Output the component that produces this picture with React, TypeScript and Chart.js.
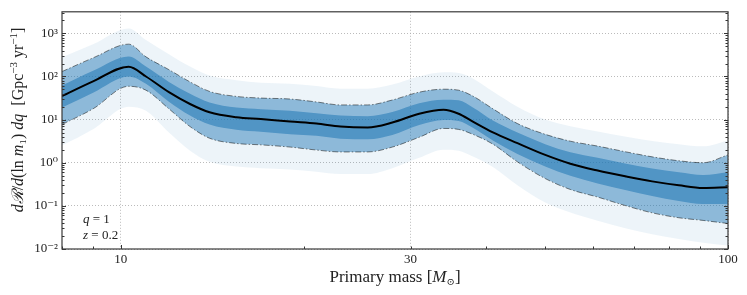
import React, { useEffect, useRef } from "react";
import { Chart, registerables } from "chart.js";
Chart.register(...registerables);

const masses = [8, 9, 10.3, 11, 12, 13, 14, 15.5, 17, 19, 21, 23, 25.5, 28, 31, 34, 36, 38, 41, 45, 50, 55, 61, 68, 75, 83, 91, 100];
const median = [35.1, 76.9, 169, 100, 43.3, 23, 14.8, 11.4, 10.3, 9.0, 8.1, 6.93, 6.58, 8.55, 13.7, 16.9, 13.7, 9.0, 5.07, 2.85, 1.52, 0.95, 0.66, 0.48, 0.37, 0.30, 0.26, 0.27];
const upper90 = [130, 270, 562, 285, 144, 75, 45, 34.5, 31.6, 30.0, 25.7, 21.9, 21.9, 28.5, 43.3, 50.7, 48.1, 35.1, 17.8, 8.1, 4.56, 3.16, 2.43, 1.78, 1.37, 1.11, 1.0, 1.52];
const lower90 = [7.7, 17.8, 59.3, 48.1, 17.8, 6.9, 3.7, 2.8, 2.6, 2.31, 1.97, 1.78, 1.78, 2.31, 3.9, 6.24, 5.93, 4.56, 2.7, 1.05, 0.43, 0.24, 0.16, 0.10, 0.069, 0.053, 0.046, 0.039];
const upper50 = [62, 135, 290, 170, 75, 40, 25, 19, 17.5, 16, 14, 12.5, 12, 15, 24, 29, 28, 19, 9.5, 5, 2.7, 1.75, 1.3, 0.95, 0.74, 0.6, 0.52, 0.6];
const lower50 = [19, 42, 100, 68, 26, 12.5, 7.7, 5.8, 5.2, 4.6, 4.2, 3.6, 3.5, 4.4, 7.5, 9.8, 9.3, 6.5, 3.3, 1.6, 0.82, 0.5, 0.33, 0.23, 0.17, 0.13, 0.11, 0.11];
const outerUpper = [280, 560, 1300, 700, 330, 170, 105, 82, 72, 68, 60, 52, 52, 65, 100, 125, 120, 90, 45, 20, 10, 7, 5.3, 4, 3.2, 2.7, 2.4, 3.3];
const outerLower = [2.5, 6, 20, 16, 5, 1.9, 1.05, 0.82, 0.75, 0.7, 0.62, 0.55, 0.55, 0.75, 1.3, 2.0, 1.9, 1.4, 0.8, 0.3, 0.12, 0.07, 0.045, 0.03, 0.022, 0.017, 0.014, 0.012];

const xTickValues = [10, 30, 100];
const yTickValues = [1e-2, 1e-1, 1, 10, 100, 1000];
const yTickLabels = ["10⁻²", "10⁻¹", "10⁰", "10¹", "10²", "10³"];

type Seg = { t: string; it?: boolean; s?: number; dy?: number };
const annotations: Seg[][] = [
  [{ t: "q", it: true }, { t: " = 1" }],
  [{ t: "z", it: true }, { t: " = 0.2" }],
];

const SERIF = '"Liberation Serif", "DejaVu Serif", serif';

function pts(arr: number[]) {
  return arr.map((y, i) => ({ x: masses[i], y }));
}

function drawSegments(ctx: CanvasRenderingContext2D, segs: Seg[], size: number, x: number, y: number, align: "left" | "center") {
  const fontOf = (g: Seg) => `${g.it ? "italic " : ""}${Math.round((g.s ?? 1) * size)}px ${SERIF}`;
  const widths = segs.map((g) => {
    ctx.font = fontOf(g);
    return ctx.measureText(g.t).width;
  });
  const total = widths.reduce((a, b) => a + b, 0);
  let cx = align === "center" ? x - total / 2 : x;
  ctx.textBaseline = "alphabetic";
  ctx.textAlign = "left";
  const base = y + size * 0.33;
  segs.forEach((g, i) => {
    ctx.font = fontOf(g);
    ctx.fillText(g.t, cx, base + (g.dy ?? 0));
    cx += widths[i];
  });
}

const framePlugin = {
  id: "frame",
  afterDraw(chart: any) {
    const ctx = chart.ctx as CanvasRenderingContext2D;
    const { left, right, top, bottom } = chart.chartArea;
    const xs = chart.scales.x;
    const ys = chart.scales.y;
    ctx.save();
    ctx.strokeStyle = "#333";
    ctx.lineWidth = 1;
    ctx.beginPath();
    for (let d = 0; d <= 1; d++) {
      for (let k = 1; k <= 10; k++) {
        const val = k * Math.pow(10, d);
        if (val < 8 || val > 100) continue;
        const px = Math.round(xs.getPixelForValue(val)) + 0.5;
        const len = val === 10 || val === 100 ? 4 : 2.5;
        ctx.moveTo(px, bottom);
        ctx.lineTo(px, bottom - len);
      }
    }
    for (let e = -2; e <= 3; e++) {
      for (let k = 1; k <= 9; k++) {
        const val = k * Math.pow(10, e);
        if (val > 3162) continue;
        const py = Math.round(ys.getPixelForValue(val)) + 0.5;
        const len = k === 1 ? 4 : 2.5;
        ctx.moveTo(left, py);
        ctx.lineTo(left + len, py);
        ctx.moveTo(right, py);
        ctx.lineTo(right - len, py);
      }
    }
    ctx.stroke();
    ctx.strokeStyle = "#3a3a3a";
    ctx.lineWidth = 1.2;
    ctx.strokeRect(left, top, right - left, bottom - top);

    ctx.fillStyle = "#222";
    annotations.forEach((segs, i) => {
      drawSegments(ctx, segs, 13, left + 21, 219 + i * 16, "left");
    });
    drawSegments(ctx, [{ t: "Primary mass [" }, { t: "M", it: true }, { t: "⊙", s: 0.6, dy: 3 }, { t: "]" }], 17, (left + right) / 2, 276, "center");
    ctx.save();
    ctx.translate(18, 120);
    ctx.rotate(-Math.PI / 2);
    drawSegments(ctx, [
      { t: "dℛ", it: true }, { t: "/" }, { t: "d", it: true }, { t: "(ln " }, { t: "m", it: true }, { t: "₁" }, { t: ")" },
      { t: " dq", it: true }, { t: "  [Gpc" }, { t: "−3", s: 0.7, dy: -6 }, { t: " yr" }, { t: "−1", s: 0.7, dy: -6 }, { t: "]" },
    ], 16, 0, 0, "center");
    ctx.restore();
    ctx.restore();
  },
};

export default function App() {
  const ref = useRef<HTMLCanvasElement>(null);
  useEffect(() => {
    document.body.style.margin = "0";
    const blue = (a: number) => `rgba(31,119,180,${a})`;
    const common = { pointRadius: 0, cubicInterpolationMode: "monotone" as const };
    const band = (arr: number[], order: number, fill: any, color: string) => ({
      ...common,
      data: pts(arr),
      borderWidth: 0,
      borderColor: "rgba(0,0,0,0)",
      fill,
      backgroundColor: color,
      order,
    });
    const dash = (arr: number[]) => ({
      ...common,
      data: pts(arr),
      borderColor: "rgba(0,0,0,0.55)",
      borderWidth: 0.9,
      borderDash: [6, 2, 1.5, 2],
      fill: false,
      order: 1,
    });
    const chart = new Chart(ref.current!, {
      type: "line",
      data: {
        datasets: [
          { ...common, data: pts(median), borderColor: "#000", borderWidth: 2, fill: false, order: 0 } as any,
          dash(upper90),
          dash(lower90),
          band(outerUpper, 5, 4, blue(0.08)),
          band(outerLower, 5, false, "transparent"),
          band(upper90, 4, 6, blue(0.47)),
          band(lower90, 4, false, "transparent"),
          band(upper50, 3, 8, blue(0.55)),
          band(lower50, 3, false, "transparent"),
        ],
      },
      options: {
        animation: false,
        responsive: false,
        maintainAspectRatio: false,
        layout: { padding: { top: 7, right: 19, left: 0, bottom: 0 } },
        plugins: { legend: { display: false }, tooltip: { enabled: false } },
        scales: {
          x: {
            type: "logarithmic",
            min: 8,
            max: 100,
            afterBuildTicks: (s: any) => { s.ticks = xTickValues.map((v) => ({ value: v, major: true })); },
            afterFit: (s: any) => { s.height = 46; },
            ticks: { callback: (v: any) => String(v), font: { family: SERIF, size: 13 }, color: "#222", padding: 3, maxRotation: 0, autoSkip: false },
            grid: { drawTicks: false, color: "#aaa", lineWidth: 0.8 },
            border: { display: false, dash: [1, 2] },
          } as any,
          y: {
            type: "logarithmic",
            min: 0.01,
            max: 3162,
            afterBuildTicks: (s: any) => { s.ticks = yTickValues.map((v) => ({ value: v, major: true })); },
            afterFit: (s: any) => { s.width = 62; },
            ticks: { callback: (v: any) => yTickLabels[yTickValues.findIndex((t) => Math.abs(Math.log10(t) - Math.log10(v)) < 1e-6)] ?? "", font: { family: SERIF, size: 13 }, color: "#222", padding: 4, autoSkip: false },
            grid: { drawTicks: false, color: "#aaa", lineWidth: 0.8 },
            border: { display: false, dash: [1, 2] },
          } as any,
        },
      },
      plugins: [framePlugin],
    });
    return () => chart.destroy();
  }, []);
  return (
    <div style={{ width: 747, height: 295 }}>
      <canvas ref={ref} width={747} height={295} style={{ width: 747, height: 295, display: "block" }} />
    </div>
  );
}
